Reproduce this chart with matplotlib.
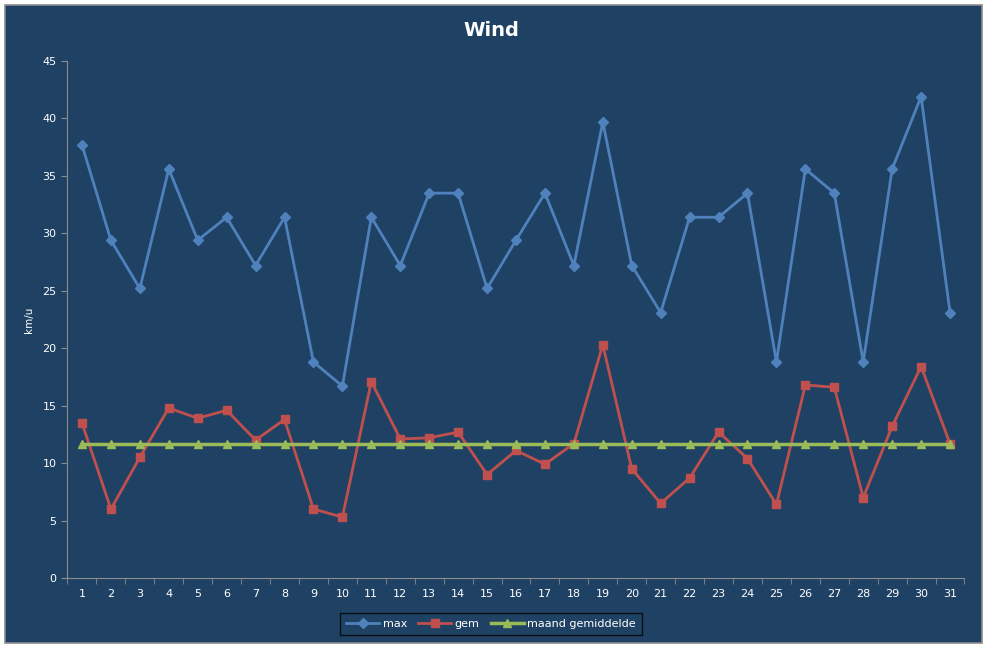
import numpy as np
import matplotlib
matplotlib.use("Agg")
import matplotlib.pyplot as plt
from matplotlib.patches import Rectangle

# Daily wind values in km/u
days = list(range(1, 32))
wind_max = [37.7, 29.4, 25.2, 35.6, 29.4, 31.4, 27.2, 31.4, 18.8, 16.7,
            31.4, 27.2, 33.5, 33.5, 25.2, 29.4, 33.5, 27.2, 39.7, 27.2,
            23.1, 31.4, 31.4, 33.5, 18.8, 35.6, 33.5, 18.8, 35.6, 41.9, 23.1]
wind_gem = [13.5, 6.0, 10.5, 14.8, 13.9, 14.6, 12.0, 13.8, 6.0, 5.3,
            17.1, 12.1, 12.2, 12.7, 9.0, 11.1, 9.9, 11.7, 20.3, 9.5,
            6.5, 8.7, 12.7, 10.4, 6.4, 16.8, 16.6, 7.0, 13.2, 18.4, 11.7]
month_avg = [11.7] * len(days)

bg = "#1f4264"
edge = "#8c8c8c"

fig = plt.figure(figsize=(9.87, 6.48), dpi=100, facecolor="white")
fig.patches.append(Rectangle((5 / 987, 5 / 648), 977 / 987, 638 / 648,
                             transform=fig.transFigure, facecolor=bg,
                             edgecolor=edge, linewidth=1.2, zorder=-1))

ax = fig.add_axes([67.5 / 987, 70 / 648, 897 / 987, 517 / 648])
ax.set_facecolor(bg)

ax.plot(days, wind_max, color="#4f81bd", lw=2, marker="D", ms=5, label="max")
ax.plot(days, wind_gem, color="#c0504d", lw=2, marker="s", ms=6, label="gem")
ax.plot(days, month_avg, color="#9bbb59", lw=2.5, marker="^", ms=6,
        label="maand gemiddelde")

ax.set_xlim(0.5, 31.5)
ax.set_ylim(0, 45)
ax.set_yticks(np.arange(0, 46, 5))
ax.set_xticks(days)
ax.set_xticks(np.arange(0.5, 32, 1), minor=True)
ax.tick_params(axis="x", which="major", length=0, pad=8, colors="white",
               labelsize=8)
ax.tick_params(axis="x", which="minor", length=4, color=edge, direction="out")
ax.tick_params(axis="y", length=4, color=edge, colors="white", labelsize=8,
               pad=4)
ax.tick_params(axis="y", color=edge)
for side in ["top", "right"]:
    ax.spines[side].set_visible(False)
for side in ["left", "bottom"]:
    ax.spines[side].set_color(edge)

ax.set_ylabel("km/u", color="white", fontsize=7.5, labelpad=6)
fig.text(491 / 987, 1 - 30 / 648, "Wind", color="white", fontsize=14,
         fontweight="bold", ha="center", va="center")

leg = fig.legend(loc="center", bbox_to_anchor=(491 / 987, 1 - 624 / 648),
                 ncol=3, frameon=True, fontsize=8, handlelength=3.0,
                 columnspacing=1.0, handletextpad=0.3, borderpad=0.5,
                 fancybox=False)
leg.get_frame().set_facecolor(bg)
leg.get_frame().set_edgecolor("black")
for t in leg.get_texts():
    t.set_color("white")

fig.savefig("out.png", dpi=100, facecolor="white")
